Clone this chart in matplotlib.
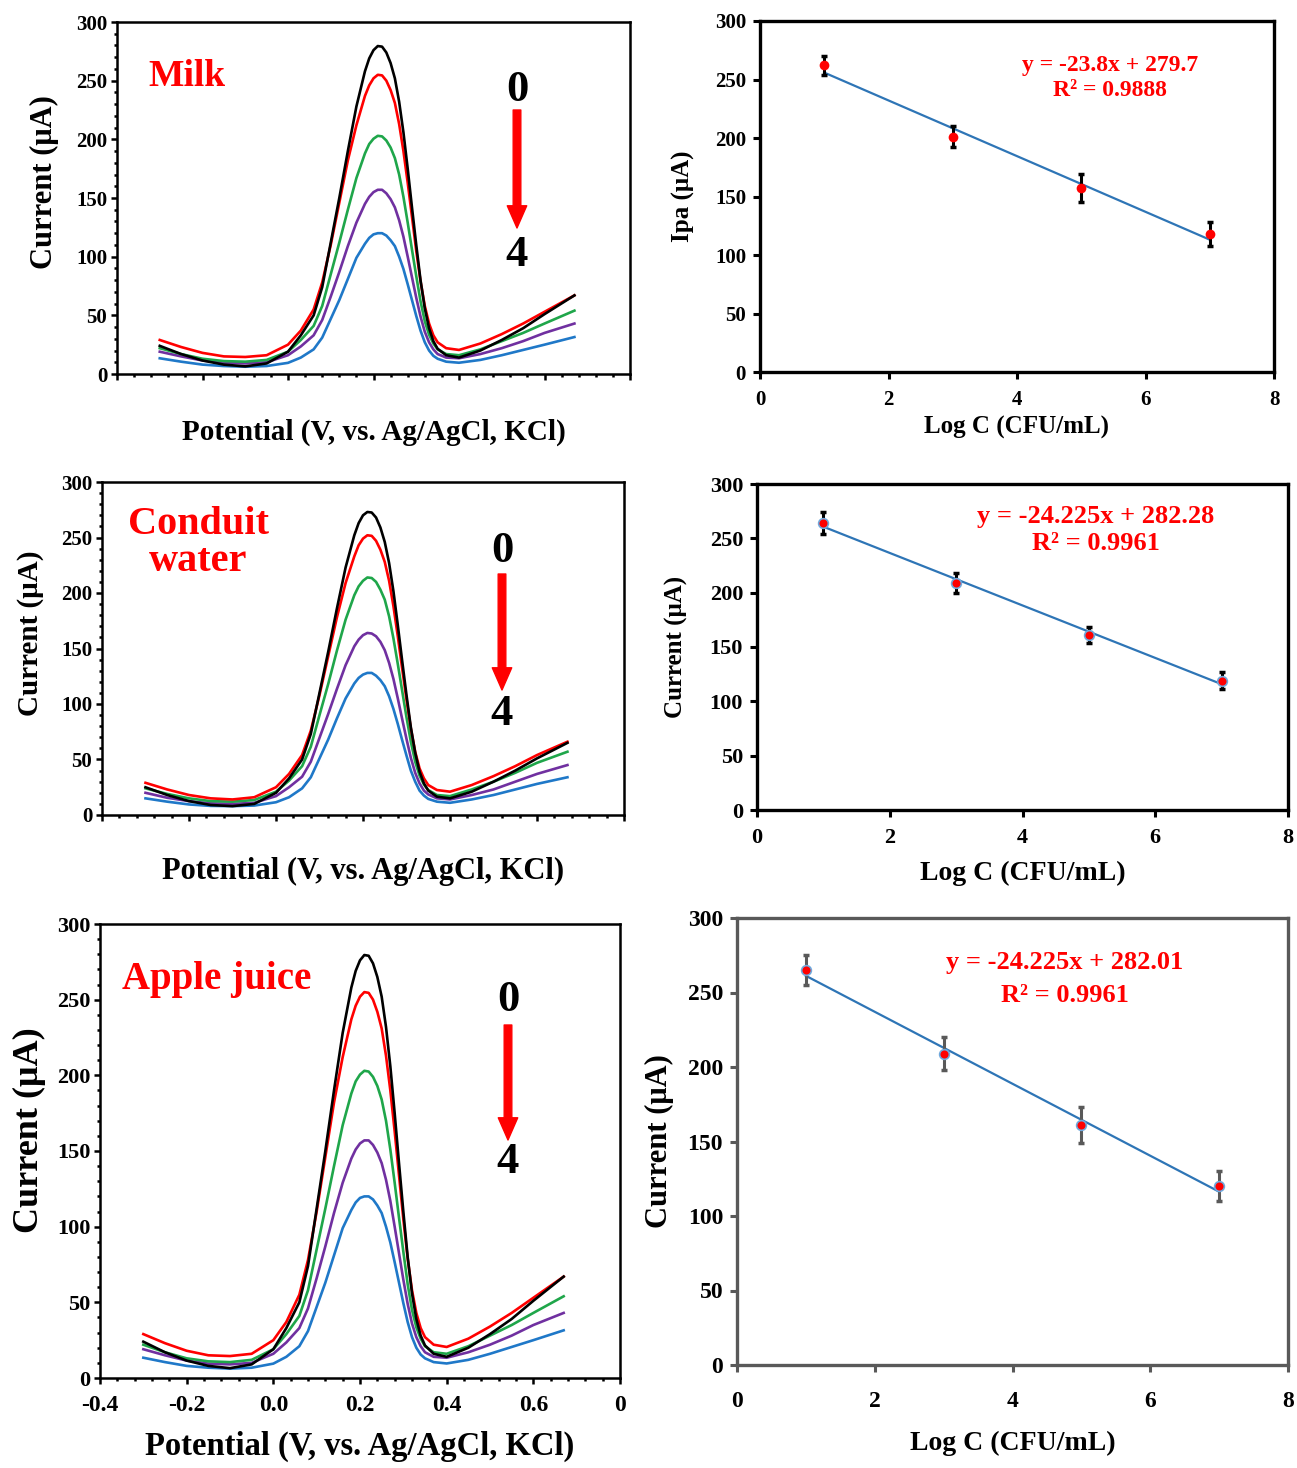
import matplotlib

matplotlib.use("Agg")
import matplotlib.pyplot as plt
import numpy as np
from matplotlib.patches import FancyArrowPatch
from matplotlib.ticker import MultipleLocator, FixedLocator, FixedFormatter

plt.rcParams["font.family"] = ["Liberation Serif", "DejaVu Serif"]
plt.rcParams["font.weight"] = "bold"
plt.rcParams["axes.labelweight"] = "bold"

W, H = 1297, 1468

# ---- DPV curves (potential in V, current in uA) ----
potential = [-0.30, -0.25, -0.20, -0.15, -0.10, -0.05, 0.00, 0.03, 0.06, 0.08,
             0.10, 0.12, 0.14, 0.16, 0.18, 0.19, 0.20, 0.21, 0.22, 0.23,
             0.24, 0.25, 0.26, 0.27, 0.28, 0.29, 0.30, 0.31, 0.32, 0.33,
             0.34, 0.35, 0.37, 0.40, 0.45, 0.50, 0.55, 0.60, 0.67]

milk_0 = [24, 17, 11.5, 8, 6.5, 9, 19, 33, 50, 74, 112, 150, 190, 228, 258, 269, 276, 279.5, 279, 274,
          265, 252, 232, 206, 175, 142, 110, 80, 56, 39, 28, 21.5, 16, 14, 20, 29, 39, 51, 67]
milk_1 = [29, 23, 18, 15, 14.5, 16, 25, 37, 55, 78, 110, 146, 182, 212, 237, 246, 252, 255, 254.5, 250,
          242, 231, 213, 190, 163, 134, 105, 79, 58, 43, 33, 27, 22, 20.5, 26, 34, 43, 53, 67]
milk_2 = [22, 17, 13, 11, 10.5, 12, 19, 29, 41, 58, 85, 112, 140, 167, 188, 196, 200.5, 203, 202.5, 199,
          193, 184, 170, 151, 129, 106, 83.5, 62, 45, 33.5, 26, 21, 17, 16, 21, 28, 35, 43, 54]
milk_3 = [19, 15, 11.5, 9.5, 9, 10, 16, 23.5, 33, 46, 66, 87, 109, 129, 145, 151, 155, 157, 157, 154,
          149, 142, 131, 117, 100, 82.5, 65, 49, 36, 27, 21, 17, 14, 13.4, 17, 22, 28, 35, 43]
milk_4 = [13.4, 10.5, 8, 6.8, 6.2, 6.8, 9.5, 14, 21, 31, 47, 63, 81, 99, 111, 116, 119, 120, 120, 118,
          114, 109, 100, 89.5, 76.5, 63, 49.5, 37, 27, 20, 15.5, 13, 10.5, 9.6, 12, 16, 20.5, 25, 31.5]

conduit_0 = [25, 18, 12.5, 9, 8, 10, 20, 33, 50, 73, 110, 147, 186, 223, 252, 263, 270, 273, 272.5, 268,
             259, 246, 227, 201.5, 171, 139, 108, 79, 56, 39, 28.5, 22, 16.5, 15, 21, 30, 40, 51, 65]
conduit_1 = [29, 23, 18, 15, 14, 16, 25, 37, 54, 76, 108, 143, 178, 209, 233, 243, 249, 252, 251.5, 247,
             239, 228, 211, 188, 161, 132, 104, 78, 57, 42, 33, 27, 22.5, 21, 27, 35, 44, 54, 66]
conduit_2 = [24, 19, 15, 12.5, 12, 13.5, 21, 31, 44, 61.5, 90, 118, 148, 176, 198, 206, 211, 214, 213.5, 210,
             203, 194, 179, 159, 136, 112, 88, 66, 48, 35.5, 27.5, 22.5, 18, 17, 23, 30, 38, 47, 57]
conduit_3 = [20, 15.5, 12.5, 10.5, 10, 11, 17, 25, 34.5, 48, 69.5, 91, 113.5, 135, 152, 158, 162, 164, 163.5, 161,
             156, 148.5, 137, 122.5, 105, 86.5, 68.5, 51.5, 38, 28.5, 22, 18.5, 15, 14, 18, 23, 30, 37, 45]
conduit_4 = [15, 12, 9.5, 8.2, 8, 8.5, 11.5, 16, 24, 34, 51, 68, 87, 105, 118.5, 123.5, 126.5, 128, 128, 125.5,
             121.5, 116, 107, 95.5, 82, 67.5, 53.5, 40, 30, 22, 17.5, 14.5, 12, 11, 14, 18, 23, 28, 34]

# the apple-juice voltammograms read the same as the milk ones
apple_0 = [24, 17, 11.5, 8, 6.5, 9, 19, 33, 50, 74, 112, 150, 190, 228, 258, 269, 276, 279.5, 279, 274,
           265, 252, 232, 206, 175, 142, 110, 80, 56, 39, 28, 21.5, 16, 14, 20, 29, 39, 51, 67]
apple_1 = [29, 23, 18, 15, 14.5, 16, 25, 37, 55, 78, 110, 146, 182, 212, 237, 246, 252, 255, 254.5, 250,
           242, 231, 213, 190, 163, 134, 105, 79, 58, 43, 33, 27, 22, 20.5, 26, 34, 43, 53, 67]
apple_2 = [22, 17, 13, 11, 10.5, 12, 19, 29, 41, 58, 85, 112, 140, 167, 188, 196, 200.5, 203, 202.5, 199,
           193, 184, 170, 151, 129, 106, 83.5, 62, 45, 33.5, 26, 21, 17, 16, 21, 28, 35, 43, 54]
apple_3 = [19, 15, 11.5, 9.5, 9, 10, 16, 23.5, 33, 46, 66, 87, 109, 129, 145, 151, 155, 157, 157, 154,
           149, 142, 131, 117, 100, 82.5, 65, 49, 36, 27, 21, 17, 14, 13.4, 17, 22, 28, 35, 43]
apple_4 = [13.4, 10.5, 8, 6.8, 6.2, 6.8, 9.5, 14, 21, 31, 47, 63, 81, 99, 111, 116, 119, 120, 120, 118,
           114, 109, 100, 89.5, 76.5, 63, 49.5, 37, 27, 20, 15.5, 13, 10.5, 9.6, 12, 16, 20.5, 25, 31.5]

curve_colors = ["black", "#ff0000", "#1fa64a", "#7030a0", "#1f78c8"]

# ---- calibration points ----
log_c = [1, 3, 5, 7]
milk_ipa = [262, 201, 157, 118]
milk_err = [8, 9, 12, 10]
conduit_cur = [264, 209, 161, 119]
conduit_err = [10, 9, 7.5, 8]
apple_cur = [265, 209, 161, 120]
apple_err = [10, 11, 12, 10]

pot_ticks = [-0.4, -0.2, 0.0, 0.2, 0.4, 0.6, 0.8]
pot_ticklabels = ["-0.4", "-0.2", "0.0", "0.2", "0.4", "0.6", "0"]


def px_axes(fig, left, right, top, bottom):
    return fig.add_axes([left / W, 1 - bottom / H, (right - left) / W, (bottom - top) / H])


def fpx(x, y):
    return (x / W, 1 - y / H)


def dpv_panel(ax, curves, tick_size, ylabel_size, xlabel_size, ypad, xpad, show_xticklabels=False):
    for vals, col in reversed(list(zip(curves, curve_colors))):
        ax.plot(potential, vals, color=col, lw=1.9, solid_joinstyle="round")
    ax.set_xlim(-0.4, 0.8)
    ax.set_ylim(0, 300)
    ax.yaxis.set_major_locator(MultipleLocator(50))
    ax.yaxis.set_minor_locator(MultipleLocator(10))
    ax.xaxis.set_major_locator(FixedLocator(pot_ticks))
    ax.xaxis.set_minor_locator(MultipleLocator(0.04))
    if show_xticklabels:
        ax.xaxis.set_major_formatter(FixedFormatter(pot_ticklabels))
    else:
        ax.set_xticklabels([])
    ax.tick_params(which="both", direction="out", width=1.8)
    ax.tick_params(which="major", length=4)
    ax.tick_params(which="minor", length=2.5)
    ax.tick_params(axis="y", labelsize=tick_size, pad=3)
    ax.tick_params(axis="x", labelsize=tick_size + 1, pad=8)
    for sp in ax.spines.values():
        sp.set_linewidth(1.8)
    ax.set_ylabel("Current (\u03bcA)", fontsize=ylabel_size, labelpad=ypad)
    ax.yaxis.label.set_y(0.545)
    ax.set_xlabel("Potential (V, vs. Ag/AgCl, KCl)", fontsize=xlabel_size, labelpad=xpad)


def cal_panel(ax, yvals, yerr, ylabel, tick_size, xpad_ticks, ylabel_size, xlabel_size,
              ypad, xpad, frame="black", err_color="black", edge="none"):
    slope, intercept = np.polyfit(log_c, yvals, 1)
    fit_x = np.array([log_c[0], log_c[-1]])
    ax.plot(fit_x, slope * fit_x + intercept, color="#2e75b6", lw=1.6, zorder=2)
    ax.errorbar(log_c, yvals, yerr=yerr, fmt="none", ecolor=err_color, elinewidth=2.2,
                capsize=2.5, capthick=2.5, zorder=3)
    ax.plot(log_c, yvals, "o", color="#ff0000", ms=7, mec=edge, mew=1.2, zorder=4)
    ax.set_xlim(0, 8)
    ax.set_ylim(0, 300)
    ax.xaxis.set_major_locator(MultipleLocator(2))
    ax.yaxis.set_major_locator(MultipleLocator(50))
    ax.tick_params(direction="out", length=5, width=2.2, color=frame, labelsize=tick_size, pad=5)
    ax.tick_params(axis="x", pad=xpad_ticks)
    for sp in ax.spines.values():
        sp.set_linewidth(2.4)
        sp.set_color(frame)
    ax.set_ylabel(ylabel, fontsize=ylabel_size, labelpad=ypad)
    ax.set_xlabel("Log C (CFU/mL)", fontsize=xlabel_size, labelpad=xpad)


def sample_arrow(fig, x, y_zero, y_tail, y_tip, y_four):
    fig.text(*fpx(x, y_zero), "0", fontsize=32, ha="center", va="center", color="black")
    fig.text(*fpx(x, y_four), "4", fontsize=32, ha="center", va="center", color="black")
    fig.add_artist(FancyArrowPatch(
        fpx(x, y_tail), fpx(x, y_tip), transform=fig.transFigure,
        arrowstyle="simple,head_length=1.6,head_width=1.4,tail_width=0.55",
        mutation_scale=10, color="#ff0000", shrinkA=0, shrinkB=0))


fig = plt.figure(figsize=(W / 100, H / 100), dpi=100)

# Milk
ax_a = px_axes(fig, 117, 630, 22, 374)
dpv_panel(ax_a, [milk_0, milk_1, milk_2, milk_3, milk_4], 15, 22, 21, ypad=12, xpad=20)
fig.text(*fpx(148, 76), "Milk", fontsize=27, color="#ff0000", ha="left", va="center")
sample_arrow(fig, 517, 90, 110, 228, 255)

ax_b = px_axes(fig, 760, 1274, 21, 372)
cal_panel(ax_b, milk_ipa, milk_err, "Ipa (\u03bcA)", 15, 8, 18, 18, ypad=14, xpad=4)
fig.text(*fpx(1110, 65), "y = -23.8x + 279.7", fontsize=17, color="#ff0000", ha="center", va="center")
fig.text(*fpx(1110, 90), "R\u00b2 = 0.9888", fontsize=17, color="#ff0000", ha="center", va="center")

# Conduit water
ax_c = px_axes(fig, 102, 624, 482, 815)
dpv_panel(ax_c, [conduit_0, conduit_1, conduit_2, conduit_3, conduit_4], 15, 21, 22, ypad=12, xpad=18)
fig.text(*fpx(198, 543), "Conduit\nwater", fontsize=29, color="#ff0000", ha="center",
         va="center", linespacing=1.0)
sample_arrow(fig, 502, 551, 574, 690, 714)

ax_d = px_axes(fig, 757, 1288, 484, 810)
cal_panel(ax_d, conduit_cur, conduit_err, "Current (\u03bcA)", 16, 8, 18, 20,
          ypad=16, xpad=9, edge="#6fa8dc")
fig.text(*fpx(1096, 517), "y = -24.225x + 282.28", fontsize=19, color="#ff0000", ha="center", va="center")
fig.text(*fpx(1096, 543), "R\u00b2 = 0.9961", fontsize=19, color="#ff0000", ha="center", va="center")

# Apple juice
ax_e = px_axes(fig, 100, 620, 924, 1378)
dpv_panel(ax_e, [apple_0, apple_1, apple_2, apple_3, apple_4], 16, 26, 23.5, ypad=8, xpad=11,
          show_xticklabels=True)
fig.text(*fpx(122, 980), "Apple juice", fontsize=28, color="#ff0000", ha="left", va="center")
sample_arrow(fig, 508, 1000, 1025, 1140, 1162)

ax_f = px_axes(fig, 737, 1288, 918, 1365)
cal_panel(ax_f, apple_cur, apple_err, "Current (\u03bcA)", 17, 14, 22, 20,
          ypad=10, xpad=13, frame="#595959", err_color="#595959", edge="#6fa8dc")
fig.text(*fpx(1065, 963), "y = -24.225x + 282.01", fontsize=19, color="#ff0000", ha="center", va="center")
fig.text(*fpx(1065, 996), "R\u00b2 = 0.9961", fontsize=19, color="#ff0000", ha="center", va="center")

fig.savefig("out.png", dpi=100)
